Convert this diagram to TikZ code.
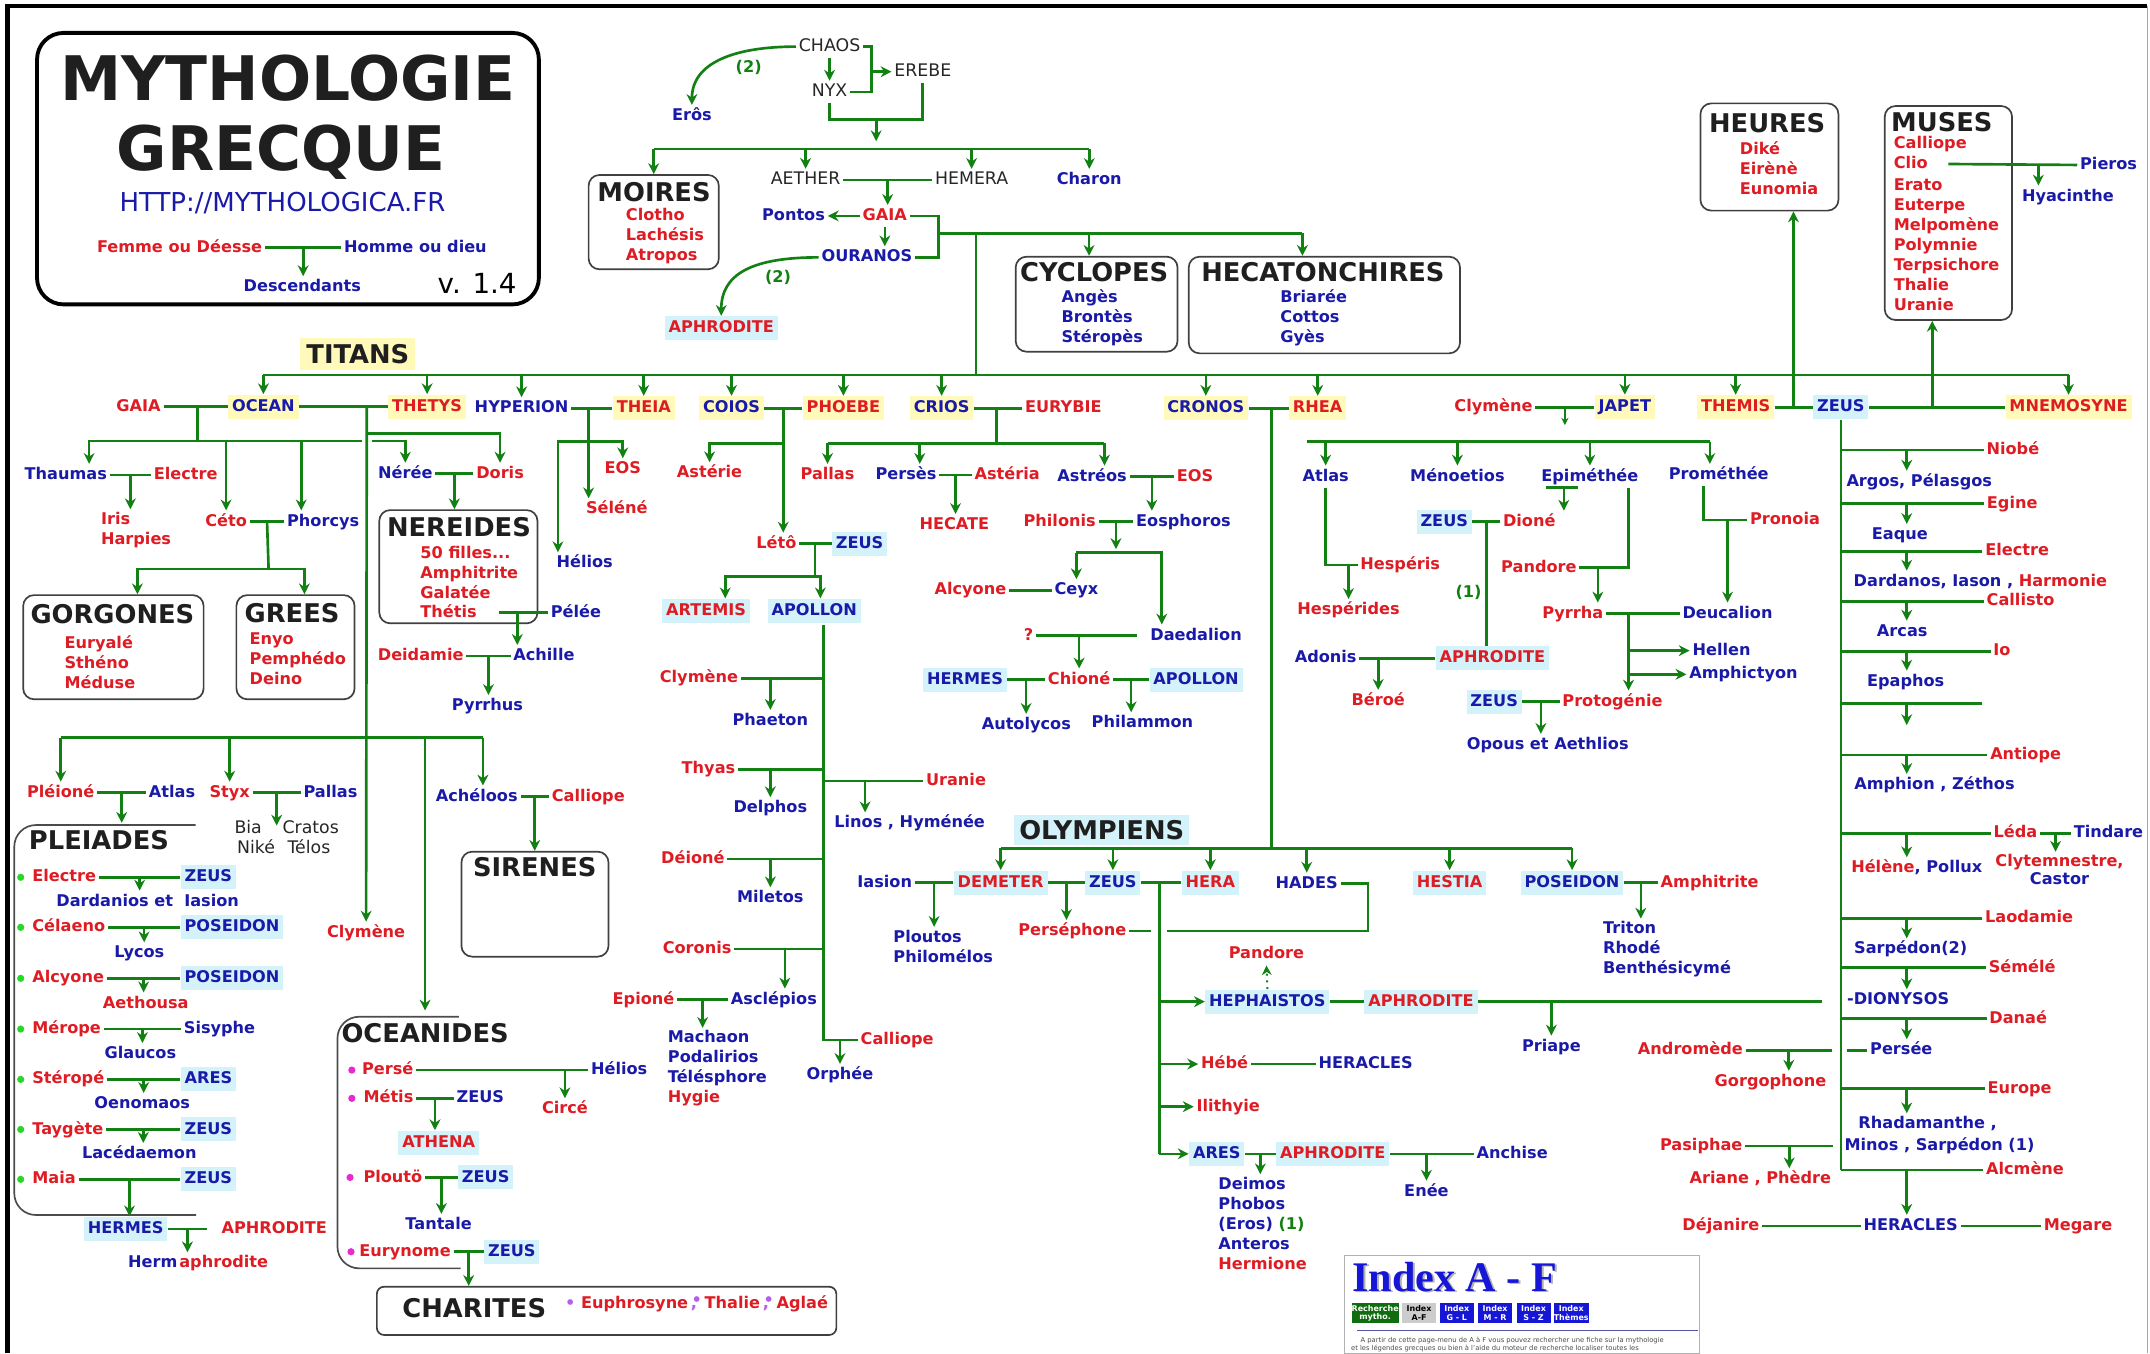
\documentclass[tikz,border=0pt]{standalone}
\usepackage{fontspec}
\setmainfont{DejaVu Sans}
\newfontfamily\indexfont{Liberation Serif}
\usepackage{xcolor}
\usetikzlibrary{arrows.meta, calc}
\usetikzlibrary{positioning}

\definecolor{rouge}{RGB}{222,28,36}
\definecolor{bleu}{RGB}{26,26,168}
\definecolor{vert}{RGB}{18,128,18}
\definecolor{jaune}{RGB}{255,250,185}
\definecolor{ciel}{RGB}{212,242,250}
\definecolor{rose}{RGB}{232,40,210}
\definecolor{mauve}{RGB}{180,95,235}
\definecolor{pomme}{RGB}{40,215,40}
\definecolor{bouton}{RGB}{22,22,215}

\newcommand{\epingle}{{\color{mauve},\kern-2.2pt\raisebox{1.3pt}{\textbullet}}}

\tikzset{
  nom/.style={font=\bfseries\fontsize{6.7}{8.3}\selectfont, inner sep=1pt, text height=5.3pt, text depth=1.5pt},
  fem/.style={nom, text=rouge},
  hom/.style={nom, text=bleu},
  liste/.style={font=\bfseries\fontsize{6.7}{8.3}\selectfont, inner sep=1pt, align=left, anchor=west},
  noir/.style={font=\fontsize{7.2}{8.3}\selectfont, text=black!85, inner sep=1pt, text height=5.4pt, text depth=1.5pt},
  num/.style={nom, text=vert},
  titan/.style={fill=jaune, inner sep=1.6pt},
  olym/.style={fill=ciel, inner sep=1.6pt},
  titre/.style={font=\bfseries\fontsize{10.7}{12}\selectfont, text=black!88, inner sep=1pt},
  cadre/.style={draw=black!75, line width=0.7pt, rounded corners=4.5pt},
  lien/.style={draw=vert, line width=1.1pt},
  fleche/.style={lien, -{Stealth[length=4.5pt,width=4.5pt]}},
  touche/.style={text=white, font=\bfseries\fontsize{3.3}{3.7}\selectfont, align=center, minimum width=0.496cm, minimum height=0.29cm, inner sep=0pt},
}

\begin{document}
\begin{tikzpicture}[x=0.02cm, y=-0.02cm]
\useasboundingbox (0,0) rectangle (1568,987);
\draw[line width=2pt] (5.5,987) -- (5.5,4.4) -- (1566,4.4);
\draw[black!35, line width=0.5pt] (1566,4.4) -- (1566,987);

% titre
\draw[line width=1.6pt, rounded corners=11pt] (27,24) rectangle (393,222);
\node[font=\bfseries\fontsize{25.5}{26}\selectfont, text=black!88] (mytho) at (210,57) {MYTHOLOGIE};
\node[font=\bfseries\fontsize{25.5}{26}\selectfont, text=black!88] (grecque) at (205,111) {GRECQUE};
\node[font=\fontsize{10.8}{12}\selectfont, text=bleu] (url) at (206,148) {HTTP://MYTHOLOGICA.FR};
\node[fem] (femme) at (131,180.5) {Femme ou Déesse};
\node[hom] (homme) at (303,180.5) {Homme ou dieu};
\node[hom] (desc) at (220.5,209.5) {Descendants};
\node[font=\fontsize{11.5}{12}\selectfont] (version) at (348,206.6) {v. 1.4};
\draw[lien] (femme.east) -- (homme.west);
\draw[fleche] ($(femme.east)!.5!(homme.west)$) coordinate (fh) -- (fh |- desc.north);

% chaos
\node[noir] (chaos) at (605,34) {CHAOS};
\node[noir] (nyx) at (605,67) {NYX};
\node[noir] (erebe) at (673,52.3) {EREBE};
\node[hom] (eros) at (504.6,84.6) {Erôs};
\node[num] (deux1) at (546,49.8) {(2)};
\draw[fleche] (chaos.west) .. controls (535,34) and (504.6,46) .. (eros.north);
\draw[fleche] (chaos.south) -- (nyx.north);
\draw[lien] (chaos.east) -- ++(6,0) coordinate (cb) |- (nyx.east);
\draw[fleche] (cb |- erebe.west) -- (erebe.west);
\draw[lien] (nyx.south) -- ++(0,12) coordinate (nb) -| (erebe.south);
\draw[fleche] ($(nb)!.5!(nb -| erebe.south)$) -- ++(0,15.8);

\coordinate (bchaos) at (637.7,108.7);
\node[cadre, minimum width=1.9cm, minimum height=1.376cm] (moires) at (476.75,162) {};
\node[titre] (moirestitre) at (477,139.8) {MOIRES};
\node[liste, text=rouge] (moiresnoms) at (454.4,172.1) {Clotho\\Lachésis\\Atropos};
\node[noir] (aether) at (587.5,131.3) {AETHER};
\node[noir] (hemera) at (708.6,131.3) {HEMERA};
\node[hom] (charon) at (794.4,131.3) {Charon};
\draw[lien] (moires.north |- bchaos) -- (charon.north |- bchaos);
\draw[fleche] (moires.north |- bchaos) -- (moires.north);
\draw[fleche] (aether.north |- bchaos) -- (aether.north);
\draw[fleche] (hemera.north |- bchaos) -- (hemera.north);
\draw[fleche] (charon.north |- bchaos) -- (charon.north);

% gaia et ouranos
\node[fem] (gaia0) at (645.3,157.5) {GAIA};
\node[hom] (pontos) at (578.7,157.5) {Pontos};
\node[hom] (ouranos) at (632.2,187.7) {OURANOS};
\node[fem, olym] (aphro0) at (526,239.5) {APHRODITE};
\node[num] (deux2) at (567.4,203) {(2)};
\draw[lien] (aether.east) -- (hemera.west);
\draw[fleche] ($(aether.east)!.5!(hemera.west)$) coordinate (ah) -- (ah |- gaia0.north);
\draw[fleche] (gaia0.west) -- (pontos.east);
\draw[fleche] (gaia0.south) -- (gaia0.south |- ouranos.north);
\draw[lien] (gaia0.east) -- ++(21,0) coordinate (go) |- (ouranos.east);
\draw[fleche] (ouranos.west) .. controls (548,187.7) and (526,200) .. (aphro0.north);

\coordinate (bgaia) at (711.8,170.2);
\coordinate (btitans) at (711.8,273.5);
\node[cadre, minimum width=2.362cm, minimum height=1.386cm] (cyclopes) at (799.75,221.85) {};
\node[titre] (cyclopestitre) at (798,198.1) {CYCLOPES};
\node[liste, text=bleu] (cyclopesnoms) at (772.1,231.7) {Angès\\Brontès\\Stéropès};
\node[cadre, minimum width=3.958cm, minimum height=1.41cm] (hecat) at (965.85,222.45) {};
\node[titre] (hecattitre) at (964.8,198.1) {HECATONCHIRES};
\node[liste, text=bleu] (hecatnoms) at (931.7,231.7) {Briarée\\Cottos\\Gyès};
\draw[lien] (go |- bgaia) -- ([xshift=-0.32cm]hecat.north |- bgaia);
\draw[fleche] ([xshift=-0.11cm]cyclopes.north |- bgaia) -- ([xshift=-0.11cm]cyclopes.north);
\draw[fleche] ([xshift=-0.32cm]hecat.north |- bgaia) -- ([xshift=-0.32cm]hecat.north);
\draw[lien] (bgaia) -- (btitans);

% titans
\node[titre, titan, inner sep=2.5pt] (titans) at (261,258) {TITANS};
\node[fem] (gaia1) at (101,296.6) {GAIA};
\node[hom, titan] (ocean) at (192.1,296.6) {OCEAN};
\node[fem, titan] (thetys) at (311.5,296.6) {THETYS};
\node[hom] (hyperion) at (380.4,297.8) {HYPERION};
\node[fem, titan] (theia) at (469.5,297.8) {THEIA};
\node[hom, titan] (coios) at (533.5,297.8) {COIOS};
\node[fem, titan] (phoebe) at (615.1,297.8) {PHOEBE};
\node[hom, titan] (crios) at (686.7,297.8) {CRIOS};
\node[fem] (eurybie) at (775.5,297.8) {EURYBIE};
\node[hom, titan] (cronos) at (879.4,297.8) {CRONOS};
\node[fem, titan] (rhea) at (961,297.8) {RHEA};
\node[fem] (clymene0) at (1089.2,297) {Clymène};
\node[hom, titan] (japet) at (1185,297) {JAPET};
\node[fem, titan] (themis) at (1265.8,297) {THEMIS};
\node[hom, olym] (zeus0) at (1342.5,297) {ZEUS};
\node[fem, titan] (mnemo) at (1508.6,297) {MNEMOSYNE};
\draw[lien] (ocean.north |- btitans) -- (mnemo.north |- btitans);
\draw[fleche] (ocean.north |- btitans) -- (ocean.north);
\draw[fleche] (thetys.north |- btitans) -- (thetys.north);
\draw[fleche] (hyperion.north |- btitans) -- (hyperion.north);
\draw[fleche] (theia.north |- btitans) -- (theia.north);
\draw[fleche] (coios.north |- btitans) -- (coios.north);
\draw[fleche] (phoebe.north |- btitans) -- (phoebe.north);
\draw[fleche] (crios.north |- btitans) -- (crios.north);
\draw[fleche] (cronos.north |- btitans) -- (cronos.north);
\draw[fleche] (rhea.north |- btitans) -- (rhea.north);
\draw[fleche] (japet.north |- btitans) -- (japet.north);
\draw[fleche] (themis.north |- btitans) -- (themis.north);
\draw[fleche] (mnemo.north |- btitans) -- (mnemo.north);

% heures et muses
\node[cadre, minimum width=2.014cm, minimum height=1.564cm] (heures) at (1290.45,114.5) {};
\node[titre] (heurestitre) at (1288.8,90) {HEURES};
\node[liste, text=rouge] (heuresnoms) at (1266.8,122.8) {Diké\\Eirènè\\Eunomia};
\node[cadre, minimum width=1.858cm, minimum height=3.122cm] (muses) at (1420.95,155.35) {};
\node[titre] (musestitre) at (1416.2,88.7) {MUSES};
\node[fem, anchor=west] (calliope0) at (1379,105) {Calliope};
\node[fem, anchor=west] (clio) at (1379,119.6) {Clio};
\node[liste, text=rouge] (musesnoms) at (1379,178.2) {Erato\\Euterpe\\Melpomène\\Polymnie\\Terpsichore\\Thalie\\Uranie};
\node[hom] (pieros) at (1537.8,120.3) {Pieros};
\node[hom] (hyacinthe) at (1508.1,143.4) {Hyacinthe};
\draw[lien] ([xshift=0.26cm]clio.east) -- (pieros.west);
\draw[fleche] ([xshift=-0.43cm]hyacinthe.north |- pieros.west) -- ([xshift=-0.43cm]hyacinthe.north);
\coordinate (tz) at (1308,297);
\coordinate (zm) at (1409.2,297);
\draw[lien] (themis.east) -- (zeus0.west);
\draw[lien] (zeus0.east) -- (mnemo.west);
\draw[fleche] (tz) -- (tz |- heures.south);
\draw[fleche] (zm) -- (zm |- muses.south);

% descendance de gaia et ocean
\node[hom] (thaumas) at (48,346.4) {Thaumas};
\node[fem] (electre0) at (135.4,346.4) {Electre};
\node[liste, text=rouge] (iris) at (71.6,386.5) {Iris\\Harpies};
\node[fem] (ceto) at (164.9,380.3) {Céto};
\node[hom] (phorcys) at (235.7,380.3) {Phorcys};
\node[hom] (neree) at (295.6,345.5) {Nérée};
\node[fem] (doris) at (364.7,345.5) {Doris};
\node[fem] (clymene1) at (267,680.2) {Clymène};
\coordinate (bg) at (144,321.5);
\coordinate (vocean) at (267.5,296.6);
\coordinate (hdoris) at (267.5,316);
\draw[lien] (gaia1.east) -- (ocean.west);
\draw[lien] (bg |- gaia1.east) -- (bg);
\draw[fleche] ([xshift=-0.07cm]vocean |- bg) -| ([xshift=0.34cm]thaumas.north);
\draw[fleche] (ceto.north |- bg) -- (ceto.north);
\draw[fleche] ([xshift=-0.32cm]phorcys.north |- bg) -- ([xshift=-0.32cm]phorcys.north);
\draw[fleche] ([xshift=0.07cm]vocean |- bg) -| (neree.north);
\draw[lien] (ocean.east) -- (thetys.west);
\draw[fleche] (vocean) -- (clymene1.north);
\draw[fleche] (hdoris) -| (doris.north);
\draw[lien] (thaumas.east) -- (electre0.west);
\draw[fleche] ($(thaumas.east)!.5!(electre0.west)$) coordinate (te) -- (te |- iris.north);

\node[cadre, minimum width=2.632cm, minimum height=1.52cm] (gorgones) at (82.7,472) {};
\node[titre] (gorgonestitre) at (82,447.8) {GORGONES};
\node[liste, text=rouge] (gorgonesnoms) at (45,482.6) {Euryalé\\Sthéno\\Méduse};
\node[cadre, minimum width=1.724cm, minimum height=1.52cm] (grees) at (215.5,472) {};
\node[titre] (greestitre) at (213,447.3) {GREES};
\node[liste, text=rouge] (greesnoms) at (180,480.3) {Enyo\\Pemphédo\\Deino};
\coordinate (bgorg) at (195.9,415);
\draw[lien] (ceto.east) -- (phorcys.west);
\draw[lien] ($(ceto.east)!.5!(phorcys.west)$ |- ceto.east) -- (bgorg);
\draw[fleche] (bgorg) -| ([xshift=0.35cm]gorgones.north);
\draw[fleche] (bgorg) -| ([xshift=0.13cm]grees.north);

\node[cadre, minimum width=2.308cm, minimum height=1.652cm] (nereides) at (334.3,413.3) {};
\node[titre] (nereidestitre) at (334.7,384.6) {NEREIDES};
\node[liste, text=rouge] (nereidesnoms) at (304.5,417.7) {50 filles...\\Amphitrite\\Galatée};
\node[fem, anchor=west] (thetis) at (304.5,446.8) {Thétis};
\node[hom] (pelee) at (420,446.8) {Pélée};
\node[hom] (achille) at (396.7,478.4) {Achille};
\node[fem] (deidamie) at (306.8,478.4) {Deidamie};
\node[hom] (pyrrhus) at (355.5,514.9) {Pyrrhus};
\draw[lien] (neree.east) -- (doris.west);
\draw[fleche] ($(neree.east)!.5!(doris.west)$) coordinate (nd) -- (nd |- nereides.north);
\draw[lien] ([xshift=0.28cm]thetis.east) -- (pelee.west);
\draw[fleche] ([xshift=0.55cm]thetis.east) -- ([xshift=0.55cm]thetis.east |- achille.north);
\draw[lien] (deidamie.east) -- (achille.west);
\draw[fleche] ($(deidamie.east)!.5!(achille.west)$) coordinate (da) -- (da |- pyrrhus.north);

% hyperion
\node[fem] (eos0) at (454.2,342.3) {EOS};
\node[fem] (selene) at (449.8,371.5) {Séléné};
\node[hom] (helios0) at (426.4,410.8) {Hélios};
\coordinate (bhyp) at (429.3,322.1);
\draw[lien] (hyperion.east) -- (theia.west);
\draw[lien] (bhyp |- theia.west) -- (bhyp);
\draw[fleche] (bhyp) -| (eos0.north);
\draw[fleche] (bhyp) -| ([xshift=-0.39cm]helios0.north);
\draw[fleche] (bhyp) -- (bhyp |- selene.north);

% coios et phoebe
\node[fem] (asterie) at (517.5,345.2) {Astérie};
\node[fem] (leto) at (566.2,396.5) {Létô};
\node[hom, olym] (zeus1) at (626.9,396.5) {ZEUS};
\node[fem, olym] (artemis) at (514.9,445.5) {ARTEMIS};
\node[hom, olym] (apollon0) at (593.8,445.5) {APOLLON};
\coordinate (cph) at (571.2,297.8);
\coordinate (bcoios) at (571.2,323.3);
\coordinate (blz) at (594.4,420.6);
\draw[lien] (coios.east) -- (phoebe.west);
\draw[fleche] (cph) -- (cph |- leto.north);
\draw[fleche] (bcoios) -| (asterie.north);
\draw[lien] (leto.east) -- (zeus1.west);
\draw[lien] (blz |- leto.east) -- (blz);
\draw[fleche] (blz) -| ([xshift=0.28cm]artemis.north);
\draw[fleche] (blz) -| ([xshift=0.09cm]apollon0.north);

% apollon
\coordinate (ap1) at (600.4,455.8);
\node[fem] (clymene2) at (509.7,494.7) {Clymène};
\node[hom] (phaeton) at (561.8,525.8) {Phaeton};
\node[fem] (thyas) at (516.7,561.1) {Thyas};
\node[hom] (delphos) at (561.8,589.5) {Delphos};
\node[fem] (uranie) at (697.2,569.5) {Uranie};
\node[hom] (linos) at (663.4,600.5) {Linos , Hyménée};
\node[fem] (deione) at (505.3,626.5) {Déioné};
\node[hom] (miletos) at (561.8,655.2) {Miletos};
\node[fem] (coronis) at (508.4,692) {Coronis};
\node[fem] (epione) at (469.3,729) {Epioné};
\node[hom] (asclepios) at (564.4,729) {Asclépios};
\node[liste, text=bleu] (machaon) at (485,779.3) {Machaon\\Podalirios\\Télésphore\\\textcolor{rouge}{Hygie}};
\node[fem] (calliope1) at (654.3,758.5) {Calliope};
\node[hom] (orphee) at (612.6,784) {Orphée};
\draw[lien] (ap1) -- (ap1 |- calliope1.west) -- (calliope1.west);
\draw[fleche] (orphee.north |- calliope1.west) -- (orphee.north);
\draw[lien] (clymene2.east) -- (clymene2.east -| ap1);
\draw[fleche] (phaeton.north |- clymene2.east) -- (phaeton.north);
\draw[lien] (thyas.east) -- (thyas.east -| ap1);
\draw[fleche] (delphos.north |- thyas.east) -- (delphos.north);
\draw[lien] (uranie.west -| ap1) -- (uranie.west);
\draw[fleche] ([xshift=-0.65cm]linos.north |- uranie.west) -- ([xshift=-0.65cm]linos.north);
\draw[lien] (deione.east) -- (deione.east -| ap1);
\draw[fleche] (miletos.north |- deione.east) -- (miletos.north);
\draw[lien] (coronis.east) -- (coronis.east -| ap1);
\draw[fleche] ([xshift=0.16cm]asclepios.north |- coronis.east) -- ([xshift=0.16cm]asclepios.north);
\draw[lien] (epione.east) -- (asclepios.west);
\draw[fleche] ($(epione.east)!.5!(asclepios.west)$) coordinate (ea) -- (ea |- machaon.north);

% crios et eurybie
\node[fem] (pallas0) at (603.5,346.4) {Pallas};
\node[hom] (perses) at (660.8,346.4) {Persès};
\node[fem] (asteria) at (734.5,346.4) {Astéria};
\node[fem] (hecate) at (696,382.9) {HECATE};
\node[hom] (astreos) at (796.5,347.6) {Astréos};
\node[fem] (eos1) at (871.5,347.6) {EOS};
\node[fem] (philonis) at (772.8,380.5) {Philonis};
\node[hom] (eosphoros) at (863.1,380.5) {Eosphoros};
\node[fem] (alcyone0) at (707.7,430.5) {Alcyone};
\node[hom] (ceyx) at (785,430.5) {Ceyx};
\node[fem] (inconnu) at (750.1,463.5) {?};
\node[hom] (daedalion) at (872.3,463.5) {Daedalion};
\node[hom, olym] (hermes0) at (703.8,495.6) {HERMES};
\node[fem] (chione) at (787,495.6) {Chioné};
\node[hom, olym] (apollon1) at (872.3,495.6) {APOLLON};
\node[hom] (autolycos) at (748.5,528.7) {Autolycos};
\node[hom] (philammon) at (833.2,527.5) {Philammon};
\coordinate (bcrios) at (726.9,323.3);
\coordinate (bpe) at (813.6,403.1);
\draw[lien] (crios.east) -- (eurybie.west);
\draw[lien] (bcrios |- crios.east) -- (bcrios);
\draw[lien] (pallas0.north |- bcrios) -- ([xshift=0.18cm]astreos.north |- bcrios);
\draw[fleche] (pallas0.north |- bcrios) -- (pallas0.north);
\draw[fleche] ([xshift=0.2cm]perses.north |- bcrios) -- ([xshift=0.2cm]perses.north);
\draw[fleche] ([xshift=0.18cm]astreos.north |- bcrios) -- ([xshift=0.18cm]astreos.north);
\draw[lien] (perses.east) -- (asteria.west);
\draw[fleche] ($(perses.east)!.5!(asteria.west)$) coordinate (pa1) -- (pa1 |- hecate.north);
\draw[lien] (astreos.east) -- (eos1.west);
\draw[fleche] ($(astreos.east)!.5!(eos1.west)$) coordinate (ae) -- (ae |- eosphoros.north);
\draw[lien] (philonis.east) -- (eosphoros.west);
\draw[fleche] ($(philonis.east)!.5!(eosphoros.west)$) coordinate (pe) -- ([yshift=1.5pt]pe |- bpe);
\draw[fleche] (ceyx.north |- bpe) -| ([xshift=-0.5cm]daedalion.north);
\draw[fleche] (ceyx.north |- bpe) -- (ceyx.north);
\draw[lien] (alcyone0.east) -- (ceyx.west);
\draw[lien] (inconnu.east) -- ([xshift=-0.15cm]daedalion.west);
\draw[fleche] (chione.north |- inconnu.east) -- (chione.north);
\draw[lien] (hermes0.east) -- (chione.west);
\draw[fleche] ($(hermes0.east)!.5!(chione.west)$) coordinate (hc) -- (hc |- autolycos.north);
\draw[lien] (chione.east) -- (apollon1.west);
\draw[fleche] ($(chione.east)!.5!(apollon1.west)$) coordinate (ca) -- (ca |- philammon.north);

% cronos et rhea : olympiens
\coordinate (cr) at (927.2,297.8);
\coordinate (bolym) at (927.2,618.7);
\node[titre, olym, inner sep=2pt] (olympiens) at (803.5,605.3) {OLYMPIENS};
\node[fem, olym] (demeter) at (729.8,643.7) {DEMETER};
\node[hom, olym] (zeus2) at (811.6,643.7) {ZEUS};
\node[fem, olym] (hera) at (882.7,643.7) {HERA};
\node[hom] (hades) at (953,644.5) {HADES};
\node[fem, olym] (hestia) at (1057.2,643.7) {HESTIA};
\node[hom, olym] (poseidon0) at (1146.5,643.7) {POSEIDON};
\draw[lien] (cronos.east) -- (rhea.west);
\draw[lien] (cr) -- (bolym);
\draw[lien] (demeter.north |- bolym) -- (poseidon0.north |- bolym);
\draw[fleche] (demeter.north |- bolym) -- (demeter.north);
\draw[fleche] (zeus2.north |- bolym) -- (zeus2.north);
\draw[fleche] (hera.north |- bolym) -- (hera.north);
\draw[fleche] (hades.north |- bolym) -- (hades.north);
\draw[fleche] (hestia.north |- bolym) -- (hestia.north);
\draw[fleche] (poseidon0.north |- bolym) -- (poseidon0.north);

\node[hom] (iasion0) at (645.2,643.7) {Iasion};
\node[liste, text=bleu] (ploutos) at (649.5,689.9) {Ploutos\\Philomélos};
\node[fem] (persephone) at (782,679) {Perséphone};
\draw[lien] (iasion0.east) -- (demeter.west);
\draw[fleche] ($(iasion0.east)!.5!(demeter.west)$) coordinate (id) -- (id |- ploutos.north);
\draw[lien] (demeter.east) -- (zeus2.west);
\draw[fleche] ($(demeter.east)!.5!(zeus2.west)$) coordinate (dz) -- (dz |- persephone.north);

\coordinate (zh) at (845.4,643.7);
\node[fem] (pandore0) at (923.6,696) {Pandore};
\node[hom, olym] (hephaistos) at (924.3,730.5) {HEPHAISTOS};
\node[fem, olym] (aphro1) at (1036.3,730.5) {APHRODITE};
\node[hom] (priape) at (1131.4,763.3) {Priape};
\node[fem] (hebe) at (893.1,776) {Hébé};
\node[hom] (heracles0) at (996,776) {HERACLES};
\node[fem] (ilithyie) at (895.7,807.1) {Ilithyie};
\node[hom, olym] (ares0) at (887.4,841.5) {ARES};
\node[fem, olym] (aphro2) at (972,841.5) {APHRODITE};
\node[hom] (anchise) at (1102.8,841.5) {Anchise};
\node[hom] (enee) at (1040.3,869.1) {Enée};
\node[liste, text=bleu] (deimos) at (886.5,892.2) {Deimos\\Phobos\\(Eros) \textcolor{vert}{(1)}\\Anteros\\\textcolor{rouge}{Hermione}};
\draw[lien] (zeus2.east) -- (hera.west);
\draw[lien] (zh) -- (zh |- ares0.west);
\draw[lien] (hades.east) -- ++(20,0) |- ([xshift=0.12cm]zh |- persephone.east);
\draw[lien] (persephone.east) -- ([xshift=-0.12cm]zh |- persephone.east);
\draw[fleche] (zh |- hephaistos.west) -- (hephaistos.west);
\draw[vert, line width=0.8pt, dotted, -{Stealth[length=4pt,width=4pt]}] (hephaistos.north) -- (pandore0.south);
\draw[lien] (hephaistos.east) -- (aphro1.west);
\draw[fleche] (priape.north |- aphro1.east) -- (priape.north);
\draw[fleche] (zh |- hebe.west) -- (hebe.west);
\draw[lien] (hebe.east) -- (heracles0.west);
\draw[fleche] (zh |- ilithyie.west) -- (ilithyie.west);
\draw[fleche] (zh |- ares0.west) -- (ares0.west);
\draw[lien] (ares0.east) -- (aphro2.west);
\draw[fleche] ($(ares0.east)!.5!(aphro2.west)$) coordinate (aa) -- (aa |- deimos.north);
\draw[lien] (aphro2.east) -- (anchise.west);
\draw[fleche] (enee.north |- aphro2.east) -- (enee.north);

\node[fem] (amphitrite1) at (1246.8,643.7) {Amphitrite};
\node[liste, text=bleu] (triton) at (1167,692.4) {Triton\\Rhodé\\Benthésicymé};
\draw[lien] (poseidon0.east) -- (amphitrite1.west);
\draw[fleche] ($(poseidon0.east)!.5!(amphitrite1.west)$) coordinate (pam) -- (pam |- triton.north);

% japet
\node[hom] (atlas1) at (966.8,347.6) {Atlas};
\node[hom] (menoetios) at (1062.9,347.6) {Ménoetios};
\node[hom] (epimethee) at (1159.5,347.6) {Epiméthée};
\node[hom] (promethee) at (1253.5,346.4) {Prométhée};
\node[fem] (hesperis) at (1021.2,412.1) {Hespéris};
\node[fem] (hesperides) at (983.5,444.9) {Hespérides};
\node[hom, olym] (zeus3) at (1053.3,380.5) {ZEUS};
\node[fem] (dione) at (1115.3,380.5) {Dioné};
\node[num] (un1) at (1071,432.2) {(1)};
\node[fem, olym] (aphro3) at (1088.4,480.1) {APHRODITE};
\node[hom] (adonis) at (966.8,480.1) {Adonis};
\node[fem] (beroe) at (1005.1,511.2) {Béroé};
\node[fem] (pandore1) at (1122.3,414) {Pandore};
\node[fem] (pyrrha) at (1147,447.5) {Pyrrha};
\node[hom] (deucalion) at (1259.9,447.5) {Deucalion};
\node[fem] (pronoia) at (1301.8,379.2) {Pronoia};
\node[hom] (hellen) at (1255.5,474.5) {Hellen};
\node[hom] (amphictyon) at (1271.5,491.8) {Amphictyon};
\node[hom, olym] (zeus4) at (1089.7,511.7) {ZEUS};
\node[fem] (protogenie) at (1176,511.7) {Protogénie};
\node[hom] (opous) at (1128.8,543.3) {Opous et Aethlios};
\coordinate (bjapet) at (953.5,322.1);
\coordinate (pp) at (1165.3,414);
\coordinate (pd) at (1187.7,447.5);
\draw[lien] (clymene0.east) -- (japet.west);
\draw[vert, line width=0.7pt, -{Stealth[length=3pt,width=3pt]}] ($(clymene0.east)!.5!(japet.west)$) -- ++(0,13);
\draw[lien] (bjapet) -- ([xshift=-0.13cm]promethee.north |- bjapet);
\draw[fleche] (atlas1.north |- bjapet) -- (atlas1.north);
\draw[fleche] (menoetios.north |- bjapet) -- (menoetios.north);
\draw[fleche] (epimethee.north |- bjapet) -- (epimethee.north);
\draw[fleche] ([xshift=-0.13cm]promethee.north |- bjapet) -- ([xshift=-0.13cm]promethee.north);
\draw[lien] (atlas1.south) -- (atlas1.south |- hesperis.west) -- (hesperis.west);
\draw[fleche] (hesperides.north |- hesperis.west) -- (hesperides.north);
\draw[lien] (zeus3.east) -- (dione.west);
\draw[lien] ($(zeus3.east)!.5!(dione.west)$) coordinate (zd) -- (zd |- aphro3.north);
\draw[lien] (adonis.east) -- (aphro3.west);
\draw[fleche] (beroe.north |- adonis.east) -- (beroe.north);
\draw[lien] ([xshift=-0.64cm]epimethee.south) -- ([xshift=-0.17cm]epimethee.south);
\draw[fleche] ([xshift=-0.38cm]epimethee.south) -- ([xshift=-0.38cm]epimethee.south |- dione.north);
\draw[lien] ([xshift=0.56cm]epimethee.south) |- (pandore1.east);
\draw[fleche] (pp) -- (pp |- pyrrha.north);
\draw[lien] ([xshift=-0.22cm]promethee.south) |- (pronoia.west);
\draw[fleche] (deucalion.north |- pronoia.west) -- (deucalion.north);
\draw[lien] (pyrrha.east) -- (deucalion.west);
\draw[fleche] (pd) -- (pd |- protogenie.north);
\draw[fleche] (pd |- hellen.west) -- (hellen.west);
\draw[fleche] (pd |- amphictyon.west) -- (amphictyon.west);
\draw[lien] (zeus4.east) -- (protogenie.west);
\draw[fleche] ($(zeus4.east)!.5!(protogenie.west)$) coordinate (zp) -- (zp |- opous.north);

% descendance de zeus
\coordinate (zt) at (1342.5,853.3);
\coordinate (zf) at (1390.6,853.3);
\coordinate (vide) at (1445.3,513);
\node[fem] (niobe) at (1468,328.2) {Niobé};
\node[hom] (argos) at (1399.7,351.3) {Argos, Pélasgos};
\node[fem] (egine) at (1467.5,367.3) {Egine};
\node[hom] (eaque) at (1385.6,390.2) {Eaque};
\node[fem] (electre2) at (1471.1,402) {Electre};
\node[nom, anchor=west] (dardanos) at (1349.8,424.2) {\textcolor{bleu}{Dardanos, Iason ,} \textcolor{rouge}{Harmonie}};
\node[fem] (callisto) at (1473.6,438.6) {Callisto};
\node[hom] (arcas) at (1387.3,460.7) {Arcas};
\node[fem] (io) at (1460,475) {Io};
\node[hom] (epaphos) at (1389.8,497.1) {Epaphos};
\node[fem] (antiope) at (1477.3,550.6) {Antiope};
\node[hom] (amphion) at (1410.8,572.5) {Amphion , Zéthos};
\node[fem] (leda) at (1469.9,607.8) {Léda};
\node[hom] (tindare) at (1537.7,607.8) {Tindare};
\node[nom] (helene) at (1397.9,633.3) {\textcolor{rouge}{Hélène}\textcolor{bleu}{ , Pollux}};
\node[font=\bfseries\fontsize{6.7}{5.9}\selectfont, align=center, inner sep=1pt] (clytem) at (1502,634.3) {\textcolor{rouge}{Clytemnestre,}\\\textcolor{bleu}{Castor}};
\node[fem] (laodamie) at (1479.8,669.7) {Laodamie};
\node[hom] (sarpedon2) at (1393.5,692.4) {Sarpédon(2)};
\node[fem] (semele) at (1474.8,705.7) {Sémélé};
\node[hom, anchor=west] (dionysos) at (1345,729.5) {-DIONYSOS};
\node[fem] (danae) at (1471.9,743) {Danaé};
\node[hom] (persee) at (1386.6,766) {Persée};
\node[fem] (andromede) at (1232.8,766) {Andromède};
\node[fem] (gorgophone) at (1291.2,788.9) {Gorgophone};
\node[fem] (europe) at (1472.9,794) {Europe};
\node[hom] (rhada) at (1405.8,820) {Rhadamanthe ,};
\node[hom] (minos) at (1414.5,835.8) {Minos ,  Sarpédon (1)};
\node[fem] (pasiphae) at (1240.7,835.8) {Pasiphae};
\node[fem] (ariane) at (1283.8,860.1) {Ariane , Phèdre};
\node[fem] (alcmene) at (1476.8,853.3) {Alcmène};
\node[fem] (dejanire) at (1255,894) {Déjanire};
\node[hom] (heracles1) at (1393.5,894) {HERACLES};
\node[fem] (megare) at (1515.5,894) {Megare};
\draw[lien] (zeus0.south) -- (zt);
\draw[lien] (zt |- niobe.west) -- (niobe.west);
\draw[fleche] (zf |- niobe.west) -- (zf |- argos.north);
\draw[lien] (zt |- egine.west) -- (egine.west);
\draw[fleche] (zf |- egine.west) -- (zf |- eaque.north);
\draw[lien] (zt |- electre2.west) -- (electre2.west);
\draw[fleche] (zf |- electre2.west) -- (zf |- dardanos.north);
\draw[lien] (zt |- callisto.west) -- (callisto.west);
\draw[fleche] (zf |- callisto.west) -- (zf |- arcas.north);
\draw[lien] (zt |- io.west) -- (io.west);
\draw[fleche] (zf |- io.west) -- (zf |- epaphos.north);
\draw[lien] (zt |- vide) -- (vide);
\draw[fleche] (zf |- vide) -- ++(0,15.8);
\draw[lien] (zt |- antiope.west) -- (antiope.west);
\draw[fleche] (zf |- antiope.west) -- (zf |- amphion.north);
\draw[lien] (zt |- leda.west) -- (leda.west);
\draw[fleche] (zf |- leda.west) -- (zf |- helene.north);
\draw[lien] (leda.east) -- (tindare.west);
\draw[fleche] ($(leda.east)!.5!(tindare.west)$) coordinate (lt) -- (lt |- clytem.north);
\draw[lien] (zt |- laodamie.west) -- (laodamie.west);
\draw[fleche] (zf |- laodamie.west) -- (zf |- sarpedon2.north);
\draw[lien] (zt |- semele.west) -- (semele.west);
\draw[fleche] (zf |- semele.west) -- (zf |- dionysos.north);
\draw[lien] (aphro1.east) -- ([xshift=-0.33cm]dionysos.west |- aphro1.east);
\draw[lien] (zt |- danae.west) -- (danae.west);
\draw[fleche] (zf |- danae.west) -- (zf |- persee.north);
\draw[lien] ([xshift=-0.29cm]persee.west) -- (persee.west);
\draw[lien] (andromede.east) -- ([xshift=-0.13cm]zt |- andromede.east);
\draw[fleche] ($(andromede.east)!.5!([xshift=-0.13cm]zt |- andromede.east)$) coordinate (ag) -- (ag |- gorgophone.north);
\draw[lien] (zt |- europe.west) -- (europe.west);
\draw[fleche] (zf |- europe.west) -- (zf |- rhada.north);
\draw[lien] (pasiphae.east) -- ([xshift=-0.11cm]zt |- pasiphae.east);
\draw[fleche] ($(pasiphae.east)!.5!([xshift=-0.11cm]zt |- pasiphae.east)$) coordinate (pm) -- (pm |- ariane.north);
\draw[lien] (zt) -- (alcmene.west);
\draw[fleche] (zf) -- (zf |- heracles1.north);
\draw[lien] (dejanire.east) -- (heracles1.west);
\draw[lien] (heracles1.east) -- (megare.west);

% ocean et thetys
\coordinate (bocean) at (267.5,538);
\coordinate (boce) at (310,538);
\coordinate (otop) at (310,737);
\node[fem] (pleione) at (44.3,578.1) {Pléioné};
\node[hom] (atlas0) at (125.5,578.1) {Atlas};
\node[fem] (styx) at (167.5,578.1) {Styx};
\node[hom] (pallas1) at (241,578.1) {Pallas};
\node[noir] (bia) at (181,604.8) {Bia};
\node[noir] (cratos) at (226.6,604.8) {Cratos};
\node[noir] (nike) at (186.8,618.7) {Niké};
\node[noir] (telos) at (225.3,618.7) {Télos};
\node[hom] (acheloos) at (347.7,581) {Achéloos};
\node[fem] (calliope2) at (429,581) {Calliope};
\node[cadre, minimum width=2.146cm, minimum height=1.532cm] (sirenes) at (390.15,659.4) {};
\node[titre] (sirenestitre) at (390,632.1) {SIRENES};
\draw[lien] (pleione.north |- bocean) -- ([xshift=0.09cm]acheloos.north |- bocean);
\draw[fleche] (pleione.north |- bocean) -- (pleione.north);
\draw[fleche] (styx.north |- bocean) -- (styx.north);
\draw[fleche] ([xshift=0.09cm]acheloos.north |- bocean) -- ([xshift=0.09cm]acheloos.north);
\draw[fleche] (boce) -- (otop);
\draw[lien] (pleione.east) -- (atlas0.west);
\draw[fleche] ($(pleione.east)!.5!(atlas0.west)$) coordinate (pat) -- ++(0,22);
\draw[lien] (styx.east) -- (pallas1.west);
\draw[fleche] ($(styx.east)!.5!(pallas1.west)$) coordinate (sp) -- ++(0,24);
\draw[lien] (acheloos.east) -- (calliope2.west);
\draw[fleche] ($(acheloos.east)!.5!(calliope2.west)$) coordinate (ac) -- (ac |- sirenes.north);

% pleiades
\draw[black!70, line width=0.7pt, rounded corners=9pt] (142.7,601.7) -- (10.4,601.7) -- (10.4,886.1) -- (143,886.1);
\node[titre, anchor=west] (pleiades) at (19,612.6) {PLEIADES};
\fill[pomme] (15.1,639.8) circle (1.5pt);
\fill[pomme] (15.1,676.3) circle (1.5pt);
\fill[pomme] (15.1,713.5) circle (1.5pt);
\fill[pomme] (15.1,750.5) circle (1.5pt);
\fill[pomme] (15.1,787.2) circle (1.5pt);
\fill[pomme] (15.1,823.7) circle (1.5pt);
\fill[pomme] (15.1,860.1) circle (1.5pt);
\node[fem, anchor=west] (electre1) at (21.5,639.8) {Electre};
\node[hom, olym, anchor=west] (zeus5) at (131.5,639.8) {ZEUS};
\node[hom] (dardanios) at (107.7,657.6) {Dardanios et\ \ Iasion};
\node[fem, anchor=west] (celaeno) at (21.5,676.3) {Célaeno};
\node[hom, olym, anchor=west] (poseidon1) at (131.5,676.3) {POSEIDON};
\node[hom] (lycos) at (101.6,695.3) {Lycos};
\node[fem, anchor=west] (alcyone1) at (21.5,713.5) {Alcyone};
\node[hom, olym, anchor=west] (poseidon2) at (131.5,713.5) {POSEIDON};
\node[fem] (aethousa) at (106.3,731.8) {Aethousa};
\node[fem, anchor=west] (merope) at (21.5,750.5) {Mérope};
\node[hom, anchor=west] (sisyphe) at (132,750.5) {Sisyphe};
\node[hom] (glaucos) at (102.4,768.7) {Glaucos};
\node[fem, anchor=west] (sterope) at (21.5,787.2) {Stéropé};
\node[hom, olym, anchor=west] (ares1) at (131.5,787.2) {ARES};
\node[hom] (oenomaos) at (103.7,805.2) {Oenomaos};
\node[fem, anchor=west] (taygete) at (21.5,823.7) {Taygète};
\node[hom, olym, anchor=west] (zeus6) at (131.5,823.7) {ZEUS};
\node[hom] (lacedaemon) at (101.6,841.6) {Lacédaemon};
\node[fem, anchor=west] (maia) at (21.5,860.1) {Maia};
\node[hom, olym, anchor=west] (zeus7) at (131.5,860.1) {ZEUS};
\node[hom, olym] (hermes1) at (91.7,896.2) {HERMES};
\node[fem] (aphro4) at (200,896.2) {APHRODITE};
\node[nom] (hermaph) at (144.5,921.4) {\textcolor{bleu}{Herm}\kern0.8pt\textcolor{rouge}{aphrodite}};
\draw[lien] (electre1.east) -- (zeus5.west);
\draw[fleche] ($(electre1.east)!.5!(zeus5.west)$) coordinate (e1) -- (e1 |- dardanios.north);
\draw[lien] (celaeno.east) -- (poseidon1.west);
\draw[fleche] ($(celaeno.east)!.5!(poseidon1.west)$) coordinate (e2) -- (e2 |- lycos.north);
\draw[lien] (alcyone1.east) -- (poseidon2.west);
\draw[fleche] ($(alcyone1.east)!.5!(poseidon2.west)$) coordinate (e3) -- (e3 |- aethousa.north);
\draw[lien] (merope.east) -- (sisyphe.west);
\draw[fleche] ($(merope.east)!.5!(sisyphe.west)$) coordinate (e4) -- (e4 |- glaucos.north);
\draw[lien] (sterope.east) -- (ares1.west);
\draw[fleche] ($(sterope.east)!.5!(ares1.west)$) coordinate (e5) -- (e5 |- oenomaos.north);
\draw[lien] (taygete.east) -- (zeus6.west);
\draw[fleche] ($(taygete.east)!.5!(zeus6.west)$) coordinate (e6) -- (e6 |- lacedaemon.north);
\draw[lien] (maia.east) -- (zeus7.west);
\draw[fleche] ($(maia.east)!.5!(zeus7.west)$) coordinate (e7) -- (e7 |- hermes1.north);
\draw[lien] (hermes1.east) -- ([xshift=-0.17cm]aphro4.west);
\draw[fleche] ($(hermes1.east)!.5!([xshift=-0.17cm]aphro4.west)$) coordinate (e8) -- (e8 |- hermaph.north);

% oceanides
\draw[black!70, line width=0.7pt, rounded corners=9pt] (334.7,741.5) -- (246.1,741.5) -- (246.1,925) -- (336,925);
\node[titre, anchor=west] (oceanides) at (247,753.6) {OCEANIDES};
\fill[rose] (256.6,780.4) circle (1.5pt);
\fill[rose] (256.6,801) circle (1.5pt);
\fill[rose] (255.3,858.7) circle (1.5pt);
\fill[rose] (256,912.9) circle (1.5pt);
\node[fem, anchor=west] (perse) at (262,780.4) {Persé};
\node[hom] (helios1) at (451.6,780.4) {Hélios};
\node[fem] (circe) at (412,809) {Circé};
\node[fem, anchor=west] (metis) at (263,801) {Métis};
\node[hom] (zeus9) at (350.3,801) {ZEUS};
\node[fem, olym] (athena) at (319.9,833.4) {ATHENA};
\node[fem, anchor=west] (plouto) at (263,858.7) {Ploutö};
\node[hom, olym] (zeus10) at (354.2,858.7) {ZEUS};
\node[hom] (tantale) at (319.9,893.4) {Tantale};
\node[fem, anchor=west] (eurynome) at (260,912.9) {Eurynome};
\node[hom, olym] (zeus11) at (373.3,912.9) {ZEUS};
\draw[lien] (perse.east) -- (helios1.west);
\draw[fleche] (circe.north |- perse.east) -- (circe.north);
\draw[lien] (metis.east) -- (zeus9.west);
\draw[fleche] ($(metis.east)!.5!(zeus9.west)$) coordinate (mz) -- (mz |- athena.north);
\draw[lien] (plouto.east) -- (zeus10.west);
\draw[fleche] ($(plouto.east)!.5!(zeus10.west)$) coordinate (pz) -- (pz |- tantale.north);
\node[cadre, rounded corners=3pt, minimum width=6.704cm, minimum height=0.704cm] (charites) at (442.4,956) {};
\node[titre] (charitestitre) at (345.9,954.2) {CHARITES};
\node[nom, anchor=west] (graces) at (410,951) {\textcolor{mauve}{\textbullet}\ \textcolor{rouge}{Euphrosyne\,\epingle\,Thalie\,\epingle\,Aglaé}};
\draw[lien] (eurynome.east) -- (zeus11.west);
\draw[fleche] ($(eurynome.east)!.5!(zeus11.west)$) coordinate (ez) -- (ez |- charites.north);

% index a-f
\draw[black!30, fill=white] (980.3,915.3) rectangle (1239.4,987);
\node[font=\indexfont\bfseries\fontsize{17.5}{18}\selectfont, text=black!30] (indexombre) at (1062.4,932.4) {Index A - F};
\node[font=\indexfont\bfseries\fontsize{17.5}{18}\selectfont, text=bouton] (indexaf) at (1061,931) {Index A - F};
\node[touche, fill=vert!85!black, minimum width=0.64cm] (brech) at (1002.9,957.8) {Recherche\\mytho.};
\node[touche, fill=black!20, text=black] (baf) at (1034.9,957.8) {Index\\A-F};
\node[touche, fill=bouton] (bgl) at (1062.4,957.8) {Index\\G - L};
\node[touche, fill=bouton] (bmr) at (1090.4,957.8) {Index\\M - R};
\node[touche, fill=bouton] (bsz) at (1118.4,957.8) {Index\\S - Z};
\node[touche, fill=bouton] (bth) at (1145.9,957.8) {Index\\Thèmes};
\draw[bouton!40!gray, line width=0.4pt] (990,970) -- (1238,970);
\node[font=\fontsize{2.8}{3.2}\selectfont, text=black!70, anchor=west, inner sep=0pt] (intro1) at (992,977.3) {A partir de cette page-menu de A à F vous pouvez rechercher une fiche sur la mythologie};
\node[font=\fontsize{2.8}{3.2}\selectfont, text=black!70, anchor=west, inner sep=0pt] (intro2) at (985,983.3) {et les légendes grecques ou bien à l'aide du moteur de recherche localiser toutes les};
\end{tikzpicture}
\end{document}
